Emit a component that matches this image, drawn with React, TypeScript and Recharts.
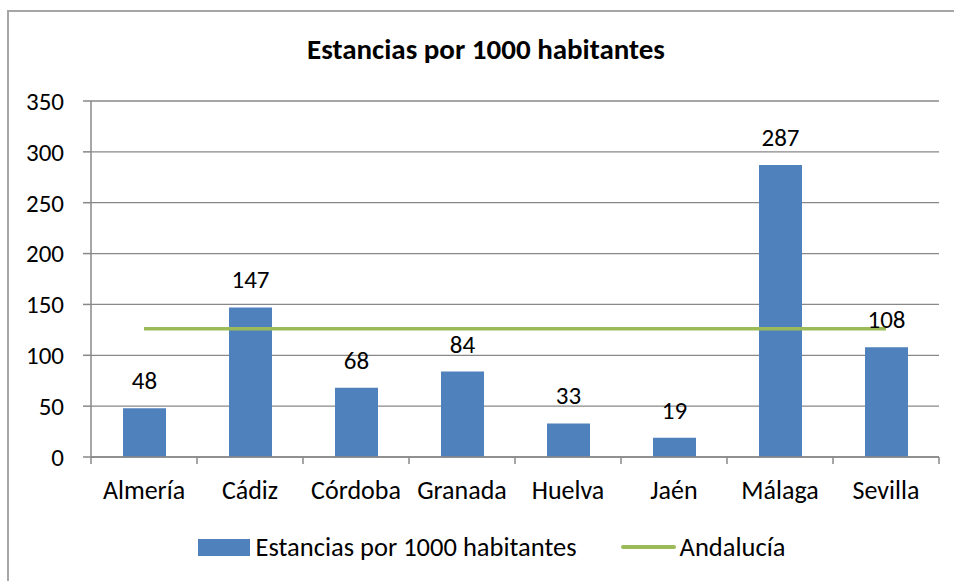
import React from "react";
import {
  ComposedChart,
  Bar,
  Line,
  XAxis,
  YAxis,
  CartesianGrid,
  Legend,
  LabelList,
} from "recharts";

const categories = ["Almería", "Cádiz", "Córdoba", "Granada", "Huelva", "Jaén", "Málaga", "Sevilla"];
const estancias = [48, 147, 68, 84, 33, 19, 287, 108];
const andalucia = [126, 126, 126, 126, 126, 126, 126, 126];
const yTicks = [0, 50, 100, 150, 200, 250, 300, 350];

const data = categories.map((c, i) => ({
  name: c,
  estancias: estancias[i],
  andalucia: andalucia[i],
}));

const W = 954;
const H = 581;
const MARGIN = { top: 101, right: 15, left: 0, bottom: 24 };
const Y_AXIS_W = 91;
const FONT = "Carlito, Lato, 'Open Sans', sans-serif";
const GRAY = "#888888";
const BAR_COLOR = "#4F81BD";
const LINE_COLOR = "#9BBB59";

const plotLeft = MARGIN.left + Y_AXIS_W;
const plotRight = W - MARGIN.right;
const band = (plotRight - plotLeft) / categories.length;

const XTick = (props: any) => {
  const { x, y, payload, index } = props;
  const left = x - band / 2;
  const right = x + band / 2;
  return (
    <g>
      <line x1={left} y1={y} x2={left} y2={y + 7} stroke={GRAY} strokeWidth={1.5} />
      {index === categories.length - 1 && (
        <line x1={right} y1={y} x2={right} y2={y + 7} stroke={GRAY} strokeWidth={1.5} />
      )}
      <text x={x} y={y + 42} textAnchor="middle" fontFamily={FONT} fontSize={26} fill="#000">
        {payload.value}
      </text>
    </g>
  );
};

const LegendContent = () => (
  <div
    style={{
      display: "flex",
      justifyContent: "center",
      alignItems: "center",
      height: 40,
      fontFamily: FONT,
      fontSize: 26.5,
      color: "#000",
      paddingLeft: 29,
    }}
  >
    <div style={{ display: "flex", alignItems: "center" }}>
      <span style={{ display: "inline-block", width: 52, height: 17, background: BAR_COLOR, marginRight: 6 }} />
      <span>Estancias por 1000 habitantes</span>
    </div>
    <div style={{ display: "flex", alignItems: "center", marginLeft: 44 }}>
      <span style={{ display: "inline-block", width: 55, height: 4, background: LINE_COLOR, marginRight: 4, borderRadius: 2 }} />
      <span>Andalucía</span>
    </div>
  </div>
);

export default function App() {
  return (
    <div
      style={{
        position: "fixed",
        left: 0,
        top: 0,
        width: W,
        height: H,
        overflow: "hidden",
        background: "#fff",
      }}
    >
      <div
        style={{
          position: "absolute",
          left: 7,
          top: 10,
          width: 1200,
          height: 1200,
          borderTop: "2px solid #A6A6A6",
          borderLeft: "2px solid #A6A6A6",
        }}
      />
      <div style={{ position: "absolute", left: 0, top: 0 }}>
        <ComposedChart width={W} height={H} data={data} margin={MARGIN}>
          <text
            x={486}
            y={59}
            textAnchor="middle"
            fontFamily={FONT}
            fontWeight="bold"
            fontSize={29}
            fill="#000"
          >
            Estancias por 1000 habitantes
          </text>
          <CartesianGrid vertical={false} stroke={GRAY} strokeWidth={1.3} />
          <XAxis
            dataKey="name"
            height={60}
            interval={0}
            tickLine={false}
            tickSize={0}
            tickMargin={0}
            axisLine={{ stroke: GRAY, strokeWidth: 1.5 }}
            tick={<XTick />}
          />
          <YAxis
            width={Y_AXIS_W}
            domain={[0, 350]}
            ticks={yTicks}
            interval={0}
            tickSize={8}
            tickMargin={19}
            axisLine={{ stroke: GRAY, strokeWidth: 1.5 }}
            tickLine={{ stroke: GRAY, strokeWidth: 1.5 }}
            tick={{ fontFamily: FONT, fontSize: 25, fill: "#000" }}
          />
          <Bar dataKey="estancias" name="Estancias por 1000 habitantes" fill={BAR_COLOR} barSize={43} isAnimationActive={false}>
            <LabelList dataKey="estancias" position="top" offset={19} fontFamily={FONT} fontSize={25} fill="#000" />
          </Bar>
          <Line
            dataKey="andalucia"
            name="Andalucía"
            type="linear"
            stroke={LINE_COLOR}
            strokeWidth={3.5}
            dot={false}
            activeDot={false}
            isAnimationActive={false}
          />
          <Legend
            verticalAlign="bottom"
            content={<LegendContent />}
            wrapperStyle={{ top: 527, bottom: undefined, left: 0, width: W, height: 40 }}
          />
        </ComposedChart>
      </div>
    </div>
  );
}
